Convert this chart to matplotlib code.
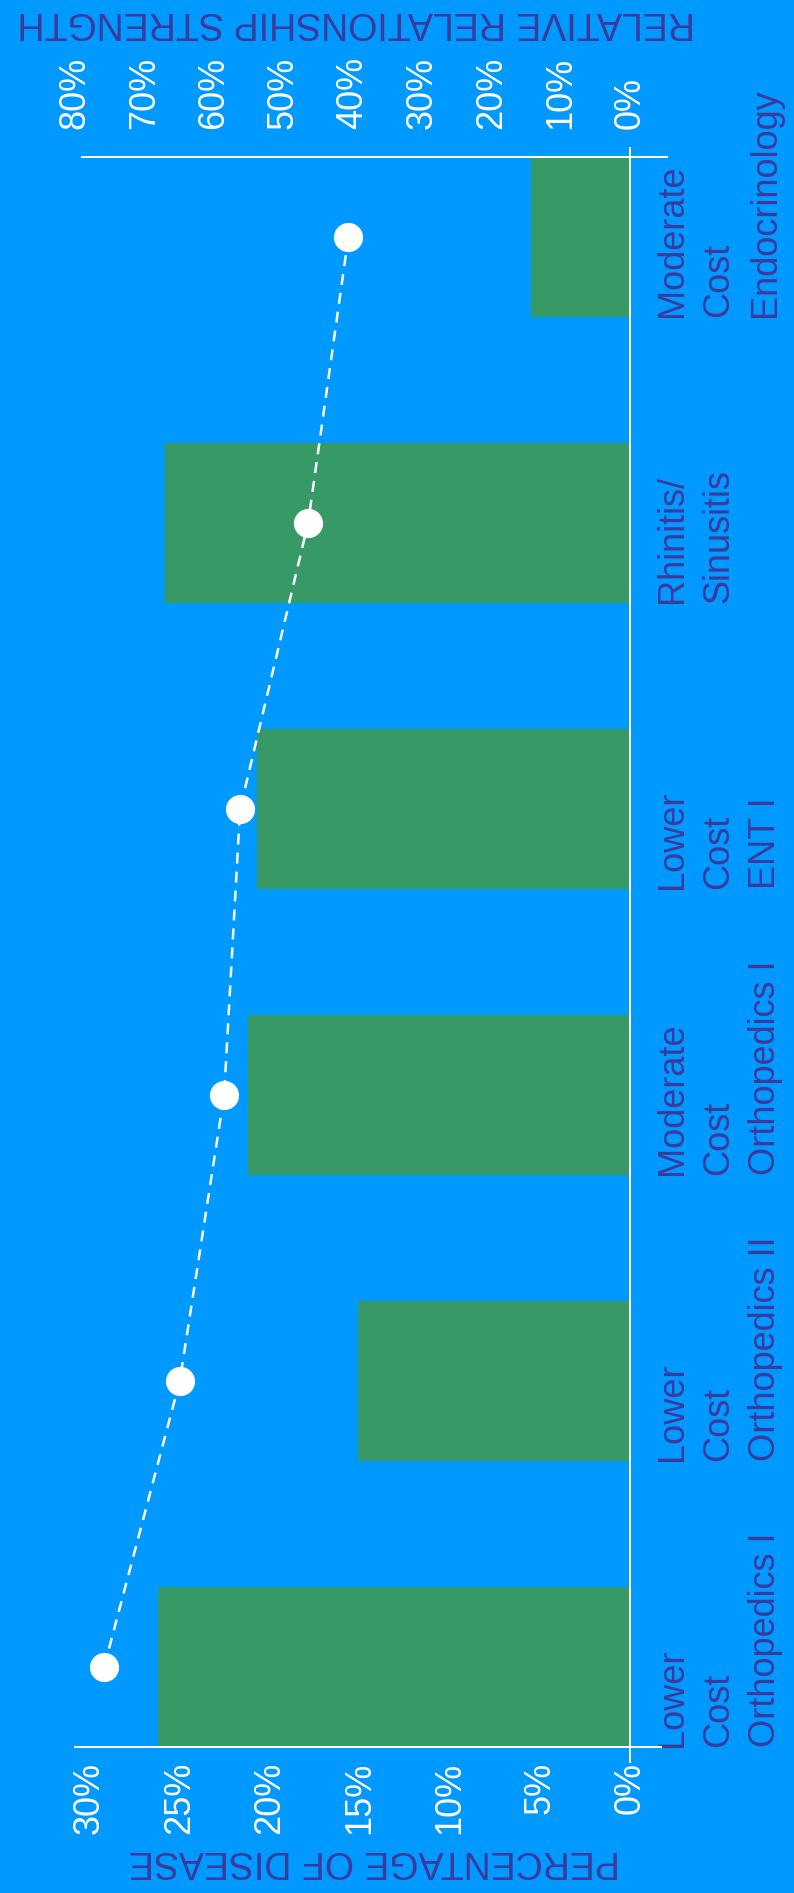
import matplotlib
matplotlib.use("Agg")
import matplotlib.pyplot as plt
from matplotlib.lines import Line2D
from matplotlib.ticker import FuncFormatter
from matplotlib.transforms import blended_transform_factory

# ---- data -------------------------------------------------------------
categories = [
    "Lower\nCost\nOrthopedics I",
    "Lower\nCost\nOrthopedics II",
    "Moderate\nCost\nOrthopedics I",
    "Lower\nCost\nENT I",
    "Rhinitis/\nSinusitis",
    "Moderate\nCost\nEndocrinology",
]
disease_pct = [26.2, 15.1, 21.2, 20.7, 25.8, 5.5]
relationship_pct = [75.8, 64.9, 58.5, 56.2, 46.4, 40.6]
disease_ticks = [0, 5, 10, 15, 20, 25, 30]
relationship_ticks = [0, 10, 20, 30, 40, 50, 60, 70, 80]
disease_title = "PERCENTAGE OF DISEASE"
relationship_title = "RELATIVE RELATIONSHIP STRENGTH"

# ---- style ------------------------------------------------------------
BG = "#0099ff"
BAR = "#379966"
INK = "#3b3a9c"
WHITE = "#ffffff"
FS = 26

plt.rcParams["font.family"] = ["Liberation Sans", "DejaVu Sans"]

W, H = 794, 1893
fig = plt.figure(figsize=(W / 100, H / 100), dpi=100, facecolor=BG)


def fx(x):
    return x / W


def fy(y):
    return 1 - y / H


# plot area (chart is laid out turned on its side: bars grow leftwards)
ax = fig.add_axes([fx(75), fy(1747), (630 - 75) / W, (1747 - 157) / H])
ax.set_facecolor(BG)
pos = list(range(len(categories)))
bar_h = 0.56
ax.barh(pos, disease_pct, height=bar_h, color=BAR, zorder=2)
ax.set_xlim(30.8, 0)
ax.set_ylim(-bar_h / 2, len(categories) - 1 + bar_h / 2)
ax.set_xticks(disease_ticks)
ax.xaxis.set_major_formatter(FuncFormatter(lambda v, _: f"{v:.0f}%"))
ax.tick_params(axis="x", length=0, pad=10.8, labelsize=FS,
               labelcolor=WHITE, labelrotation=90)
ax.set_yticks([])
for s in ax.spines.values():
    s.set_visible(False)

# secondary scale for the relationship line
ax2 = ax.twiny()
ax2.set_xlim(80, 0)
ax2.set_xticks(relationship_ticks)
ax2.xaxis.set_major_formatter(FuncFormatter(lambda v, _: f"{v:.0f}%"))
ax2.tick_params(axis="x", length=0, pad=20, labelsize=FS,
                labelcolor=WHITE, labelrotation=90)
for s in ax2.spines.values():
    s.set_visible(False)
ax2.plot(relationship_pct, pos, color=WHITE, lw=1.8,
         linestyle=(0, (4.4, 3.2)), marker="o", markersize=20,
         markerfacecolor=WHITE, markeredgecolor=WHITE, zorder=3)

# category labels, written along each band
trans = blended_transform_factory(ax.transAxes, ax.transData)
for i, lab in enumerate(categories):
    ax.text((655 - 75) / 555, i - bar_h / 2, lab, transform=trans,
            rotation=90, ha="left", va="bottom", multialignment="left",
            linespacing=1.42, color=INK, fontsize=FS, clip_on=False)

# axis rules
for xs, ys in [((75, 661), (1747, 1747)),
               ((82, 667), (157, 157)),
               ((630, 630), (148, 1762))]:
    fig.add_artist(Line2D([fx(x) for x in xs], [fy(y) for y in ys],
                          transform=fig.transFigure, color=WHITE, lw=1.44))

# axis titles
fig.text(fx(374), fy(1861), disease_title, rotation=180, ha="center",
         va="center", color=INK, fontsize=27)
fig.text(fx(356), fy(21.5), relationship_title, rotation=180, ha="center",
         va="center", color=INK, fontsize=27)

fig.savefig("out.png", dpi=100, facecolor=BG)
